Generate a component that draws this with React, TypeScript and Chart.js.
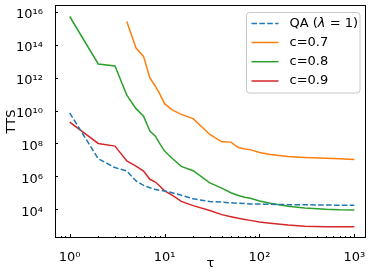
import React, { useEffect, useRef } from "react";
import { Chart, registerables } from "chart.js";
Chart.register(...registerables);

const tau = [1, 2, 3, 4, 5, 6, 7, 8, 9, 10, 12, 15, 20, 30, 40, 50, 60, 70, 80, 100, 130, 200, 300, 500, 700, 1000];
const qaValues = [7.2e9, 1.17e7, 3.4e6, 2.1e6, 5.2e5, 2.8e5, 2.0e5, 1.6e5, 1.4e5, 1.3e5, 1.0e5, 7.1e4, 4.3e4, 2.95e4, 2.7e4, 2.45e4, 2.3e4, 2.2e4, 2.1e4, 2.05e4, 2.0e4, 1.9e4, 1.86e4, 1.8e4, 1.75e4, 1.74e4];
const c07Values = [null, null, null, 2.6e15, 6.3e13, 1.95e13, 9.5e11, 3.0e11, 8.9e10, 2.6e10, 1.1e10, 5.8e9, 3.2e9, 3.5e8, 1.26e8, 1.2e8, 5.6e7, 4.6e7, 4.2e7, 2.8e7, 2.1e7, 1.6e7, 1.4e7, 1.26e7, 1.15e7, 1.07e7];
const c08Values = [5.2e15, 6.8e12, 5.1e12, 8.5e10, 1.3e10, 4.5e9, 5.6e8, 2.75e8, 8.7e7, 3.4e7, 1.26e7, 4.0e6, 2.2e6, 4.0e5, 1.9e5, 1.0e5, 6.8e4, 5.4e4, 4.6e4, 3.2e4, 2.3e4, 1.5e4, 1.2e4, 1.0e4, 9.3e3, 9.1e3];
const c09Values = [1.95e9, 1.0e8, 6.9e7, 8.5e6, 4.2e6, 2.1e6, 6.6e5, 4.5e5, 2.4e5, 1.3e5, 7.1e4, 3.0e4, 1.66e4, 8.3e3, 4.7e3, 3.5e3, 2.8e3, 2.4e3, 2.1e3, 1.66e3, 1.4e3, 1.1e3, 930, 870, 850, 850];

const seriesLabels = ["QA (λ = 1)", "c=0.7", "c=0.8", "c=0.9"];
const xTickValues = [1, 10, 100, 1000];
const yTickValues = [1e4, 1e6, 1e8, 1e10, 1e12, 1e14, 1e16];
const xTitle = "τ";
const yTitle = "TTS";

const COLORS = ["#1f77b4", "#ff7f0e", "#2ca02c", "#d62728"];
const FONT = "DejaVu Sans";

const SUP: Record<string, string> = { "0": "⁰", "1": "¹", "2": "²", "3": "³", "4": "⁴", "5": "⁵", "6": "⁶", "7": "⁷", "8": "⁸", "9": "⁹", "-": "⁻" };
function powLabel(v: number): string {
  const e = Math.round(Math.log10(v));
  return "10" + String(e).split("").map((c) => SUP[c] || c).join("");
}

const framePlugin = {
  id: "frameAndLegend",
  afterDraw(chart: any) {
    const { ctx, chartArea: a, scales } = chart;
    const xs = scales.x;
    const ys = scales.y;
    ctx.save();
    // frame
    ctx.strokeStyle = "#000";
    ctx.lineWidth = 1;
    ctx.strokeRect(a.left + 0.5, a.top + 0.5, a.right - a.left - 1, a.bottom - a.top - 1);
    // x ticks (inward)
    ctx.beginPath();
    for (let d = -1; d <= 3; d++) {
      for (let m = 1; m <= 9; m++) {
        const v = m * Math.pow(10, d);
        const px = xs.getPixelForValue(v);
        if (px < a.left + 1 || px > a.right - 1) continue;
        const len = m === 1 ? 4 : 2;
        const x = Math.round(px) + 0.5;
        ctx.moveTo(x, a.bottom);
        ctx.lineTo(x, a.bottom - len);
      }
    }
    // y ticks (inward)
    for (const v of yTickValues) {
      const py = ys.getPixelForValue(v);
      const y = Math.round(py) + 0.5;
      ctx.moveTo(a.left, y);
      ctx.lineTo(a.left + 3, y);
    }
    ctx.stroke();

    // legend
    const lx = 246.5, ly = 12.5, lw = 113.5, lh = 80.5, r = 3;
    ctx.beginPath();
    ctx.moveTo(lx + r, ly);
    ctx.lineTo(lx + lw - r, ly);
    ctx.quadraticCurveTo(lx + lw, ly, lx + lw, ly + r);
    ctx.lineTo(lx + lw, ly + lh - r);
    ctx.quadraticCurveTo(lx + lw, ly + lh, lx + lw - r, ly + lh);
    ctx.lineTo(lx + r, ly + lh);
    ctx.quadraticCurveTo(lx, ly + lh, lx, ly + lh - r);
    ctx.lineTo(lx, ly + r);
    ctx.quadraticCurveTo(lx, ly, lx + r, ly);
    ctx.closePath();
    ctx.fillStyle = "rgba(255,255,255,0.8)";
    ctx.fill();
    ctx.strokeStyle = "#c8c8c8";
    ctx.lineWidth = 1;
    ctx.stroke();

    const rows = [23.5, 42.5, 61.7, 81];
    chart.data.datasets.forEach((ds: any, i: number) => {
      const y = rows[i];
      ctx.beginPath();
      ctx.strokeStyle = ds.borderColor;
      ctx.lineWidth = 1.5;
      ctx.setLineDash(ds.borderDash || []);
      ctx.moveTo(251.5, y);
      ctx.lineTo(278.5, y);
      ctx.stroke();
      ctx.setLineDash([]);
      ctx.fillStyle = "#000";
      ctx.textBaseline = "middle";
      ctx.textAlign = "left";
      const label: string = ds.label;
      const li = label.indexOf("λ");
      if (li >= 0) {
        let x = 289.5;
        const pre = label.slice(0, li);
        const post = label.slice(li + 1);
        ctx.font = `13px "${FONT}"`;
        ctx.fillText(pre, x, y);
        x += ctx.measureText(pre).width;
        ctx.font = `oblique 13px "${FONT}"`;
        ctx.fillText("λ", x, y);
        x += ctx.measureText("λ").width;
        ctx.font = `13px "${FONT}"`;
        ctx.fillText(post, x, y);
      } else {
        ctx.font = `13px "${FONT}"`;
        ctx.fillText(label, 289.5, y);
      }
    });
    ctx.restore();
  },
};

export default function App() {
  const ref = useRef<HTMLCanvasElement | null>(null);
  useEffect(() => {
    if (!ref.current) return;
    const mk = (vals: (number | null)[]) =>
      tau.map((t, i) => ({ x: t, y: vals[i] }));
    const seriesValues = [qaValues, c07Values, c08Values, c09Values];
    const chart = new Chart(ref.current, {
      type: "line",
      data: {
        datasets: seriesValues.map((vals, i) => ({
          label: seriesLabels[i],
          data: mk(vals) as any,
          borderColor: COLORS[i],
          backgroundColor: COLORS[i],
          borderWidth: 1.5,
          borderDash: i === 0 ? [5.5, 2.4] : undefined,
          pointRadius: 0,
          tension: 0,
          fill: false,
        })),
      },
      options: {
        animation: false,
        responsive: false,
        maintainAspectRatio: false,
        layout: { padding: { top: 5, right: 7, left: 0, bottom: 0 } },
        plugins: { legend: { display: false }, tooltip: { enabled: false } },
        scales: {
          x: {
            type: "logarithmic",
            min: 0.707,
            max: 1327,
            afterBuildTicks: (s: any) => {
              s.ticks = xTickValues.map((v) => ({ value: v, major: true }));
            },
            afterFit: (s: any) => {
              s.height = 39;
              s.paddingLeft = 0;
              s.paddingRight = 0;
            },
            grid: { display: false },
            border: { display: false },
            ticks: {
              autoSkip: false,
              maxRotation: 0,
              padding: 4,
              color: "#000",
              font: { family: FONT, size: 13 },
              callback: (v: any) => powLabel(Number(v)),
            },
            title: {
              display: true,
              text: xTitle,
              color: "#000",
              font: { family: FONT, size: 13 },
              padding: { top: 0, bottom: 6 },
            },
          },
          y: {
            type: "logarithmic",
            min: 1.78e2,
            max: 2.6e16,
            afterBuildTicks: (s: any) => {
              s.ticks = yTickValues.map((v) => ({ value: v, major: true }));
            },
            afterFit: (s: any) => {
              s.width = 55;
              s.paddingTop = 0;
              s.paddingBottom = 0;
            },
            grid: { display: false },
            border: { display: false },
            ticks: {
              autoSkip: false,
              padding: 4,
              labelOffset: 3,
              color: "#000",
              font: { family: FONT, size: 13 },
              callback: (v: any) => powLabel(Number(v)),
            },
            title: {
              display: true,
              text: yTitle,
              color: "#000",
              font: { family: FONT, size: 13 },
              padding: { top: 4, bottom: 0 },
            },
          },
        },
      },
      plugins: [framePlugin],
    });
    return () => chart.destroy();
  }, []);
  return (
    <div style={{ position: "absolute", left: 0, top: 0, width: 373, height: 277, background: "#fff" }}>
      <canvas ref={ref} width={373} height={277} style={{ width: 373, height: 277 }} />
    </div>
  );
}
